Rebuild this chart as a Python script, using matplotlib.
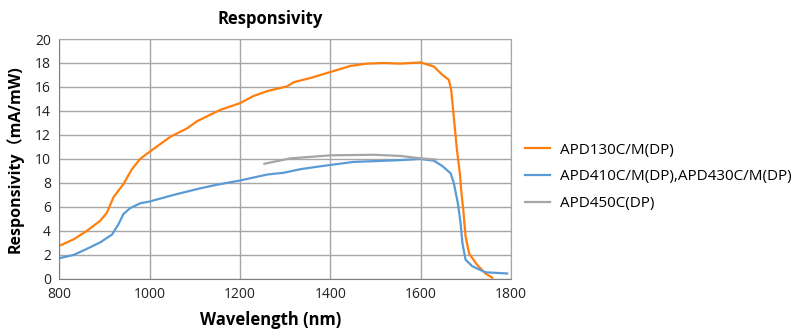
import matplotlib
matplotlib.use("Agg")
import matplotlib.pyplot as plt

plt.rcParams['font.family'] = ['Open Sans', 'Noto Sans CJK SC', 'DejaVu Sans']

# APD130C/M(DP)
wl_130 = [800, 832, 861, 891, 906, 920, 942, 961, 979, 1000, 1046, 1083, 1105,
          1157, 1200, 1230, 1260, 1304, 1319, 1356, 1400, 1444, 1481, 1518,
          1555, 1600, 1629, 1648, 1662, 1667, 1673, 1680, 1687, 1689, 1694,
          1699, 1707, 1725, 1743, 1758]
resp_130 = [2.75, 3.3, 4.0, 4.85, 5.55, 6.8, 7.9, 9.15, 10.0, 10.6, 11.85,
            12.55, 13.15, 14.1, 14.65, 15.25, 15.65, 16.05, 16.4, 16.75, 17.25,
            17.75, 17.95, 18.0, 17.95, 18.05, 17.7, 17.0, 16.6, 15.8, 13.5,
            10.75, 8.6, 7.5, 5.75, 3.55, 2.1, 1.15, 0.45, 0.1]

# APD410C/M(DP), APD430C/M(DP)
wl_410 = [800, 832, 861, 891, 917, 931, 942, 957, 979, 1000, 1053, 1112, 1149,
          1200, 1260, 1297, 1334, 1371, 1400, 1451, 1555, 1600, 1629, 1648,
          1666, 1673, 1682, 1688, 1692, 1699, 1714, 1743, 1791]
resp_410 = [1.72, 2.0, 2.5, 3.05, 3.7, 4.55, 5.4, 5.9, 6.3, 6.45, 7.0, 7.55,
            7.85, 8.2, 8.7, 8.85, 9.15, 9.35, 9.5, 9.75, 9.9, 10.0, 9.85, 9.4,
            8.8, 8.0, 6.3, 4.65, 3.0, 1.6, 1.05, 0.55, 0.45]

# APD450C(DP)
wl_450 = [1254, 1312, 1400, 1496, 1555, 1600, 1633]
resp_450 = [9.6, 10.05, 10.3, 10.35, 10.25, 10.05, 9.95]

labels = ["APD130C/M(DP)", "APD410C/M(DP),APD430C/M(DP)", "APD450C(DP)"]
colors = ["#FF7F0E", "#5B9BD5", "#A5A5A5"]

fig = plt.figure(figsize=(8, 3.32), dpi=100)
ax = fig.add_axes([0.074, 0.16, 0.565, 0.7225])

ax.plot(wl_130, resp_130, color=colors[0], lw=1.6, label=labels[0])
ax.plot(wl_410, resp_410, color=colors[1], lw=1.6, label=labels[1])
ax.plot(wl_450, resp_450, color=colors[2], lw=1.6, label=labels[2])

ax.set_xlim(800, 1800)
ax.set_ylim(0, 20)
ax.set_xticks(range(800, 1801, 200))
ax.set_yticks(range(0, 21, 2))
ax.grid(True, color="#a6a6a6", lw=1.0)
ax.set_axisbelow(True)
ax.tick_params(length=0, labelsize=10, colors="#222222", pad=6)
for s in ax.spines.values():
    s.set_color("#a6a6a6")
ax.spines['left'].set_color("#808080")
ax.spines['bottom'].set_color("#808080")

# title and x label sit a bit left of the axes centre in the original
ax.set_title("Responsivity", fontsize=12, fontweight="bold", pad=11, x=0.467)
ax.set_xlabel("Wavelength (nm)", fontsize=12, fontweight="bold", labelpad=6, x=0.467)
ax.set_ylabel("Responsivity（mA/mW)", fontsize=11.5, fontweight="bold", labelpad=8)

ax.legend(loc="center left", bbox_to_anchor=(1.0, 0.425), frameon=False,
          fontsize=11, handlelength=1.65, handletextpad=0.65, labelspacing=0.78)

fig.savefig("out.png", dpi=100)
